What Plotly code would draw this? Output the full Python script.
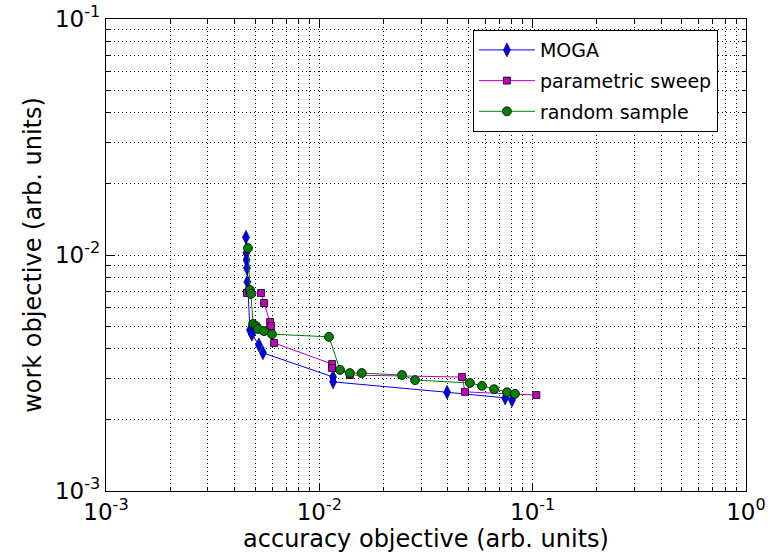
import plotly.graph_objects as go

moga_x = [0.00453, 0.00455, 0.00456, 0.00458, 0.00460, 0.00463, 0.00473, 0.00483, 0.00521, 0.00544, 0.0116, 0.0116, 0.0397, 0.0743, 0.080]
moga_y = [0.0119, 0.0102, 0.00953, 0.00881, 0.00769, 0.00711, 0.00481, 0.00462, 0.00416, 0.00385, 0.00304, 0.0029, 0.00262, 0.00248, 0.00243]

sweep_x = [0.00458, 0.00533, 0.00551, 0.00588, 0.00594, 0.00614, 0.01148, 0.01148, 0.0139, 0.0467, 0.0482, 0.104]
sweep_y = [0.0069, 0.0069, 0.00626, 0.0052, 0.0050, 0.00424, 0.00345, 0.00332, 0.0031, 0.00304, 0.00263, 0.00255]

rand_x = [0.00463, 0.00473, 0.00478, 0.00489, 0.00505, 0.00516, 0.00551, 0.0060, 0.0111, 0.0125, 0.0139, 0.0158, 0.0244, 0.0281, 0.0508, 0.0579, 0.0660, 0.0759, 0.0826]
rand_y = [0.0107, 0.00711, 0.00684, 0.0051, 0.0050, 0.00486, 0.00476, 0.00462, 0.0045, 0.00326, 0.00316, 0.00316, 0.0031, 0.00295, 0.00287, 0.00279, 0.0027, 0.00262, 0.00258]

x_major = [1e-3, 1e-2, 1e-1, 1e0]
x_labels = ["10<sup>-3</sup>", "10<sup>-2</sup>", "10<sup>-1</sup>", "10<sup>0</sup>"]
y_major = [1e-3, 1e-2, 1e-1]
y_labels = ["10<sup>-3</sup>", "10<sup>-2</sup>", "10<sup>-1</sup>"]

def minors(lo, hi):
    out = []
    d = lo
    while d < hi:
        for k in range(2, 10):
            out.append(k * d)
        d *= 10
    return out

fig = go.Figure()
fig.add_trace(go.Scatter(x=moga_x, y=moga_y, mode="lines+markers", name="MOGA", legendgroup="a",
                         line=dict(color="#0000ff", width=1),
                         marker=dict(symbol="diamond-tall", size=10, color="#0000ff",
                                     line=dict(color="black", width=0.6))))
fig.add_trace(go.Scatter(x=sweep_x, y=sweep_y, mode="lines+markers", name="parametric sweep", legendgroup="b",
                         line=dict(color="#bf00bf", width=1),
                         marker=dict(symbol="square", size=7, color="#bf00bf",
                                     line=dict(color="black", width=0.8))))
fig.add_trace(go.Scatter(x=rand_x, y=rand_y, mode="lines+markers", name="random sample", legendgroup="c",
                         line=dict(color="#008000", width=1),
                         marker=dict(symbol="circle", size=9, color="#008000",
                                     line=dict(color="black", width=0.8))))

font = "DejaVu Sans, sans-serif"
grid = dict(showgrid=True, gridcolor="black", griddash="1px,3px", gridwidth=1)
common = dict(type="log", showline=True, linecolor="black", linewidth=1.2, mirror="allticks",
              ticks="inside", ticklen=8, tickcolor="black", tickwidth=1, automargin=False,
              zeroline=False, tickfont=dict(family=font, size=23, color="black"), **grid)

fig.update_xaxes(range=[-3, 0], tickmode="array", tickvals=x_major, ticktext=x_labels,
                 minor=dict(tickmode="array", tickvals=minors(1e-3, 1e0), ticks="inside", ticklen=4,
                            tickcolor="black", **grid),
                 title=dict(text="accuracy objective (arb. units)", font=dict(family=font, size=24, color="black"), standoff=2),
                 **common)
fig.update_yaxes(range=[-3, -1], tickmode="array", tickvals=y_major, ticktext=y_labels,
                 minor=dict(tickmode="array", tickvals=minors(1e-3, 1e-1), ticks="inside", ticklen=4,
                            tickcolor="black", **grid),
                 title=dict(text="work objective (arb. units)", font=dict(family=font, size=24, color="black"), standoff=6),
                 **common)

fig.update_layout(width=770, height=556, margin=dict(l=106, r=24, t=19, b=65),
                  plot_bgcolor="white", paper_bgcolor="white",
                  font=dict(family=font, size=19, color="black"),
                  showlegend=True,
                  legend=dict(x=0.573, y=0.977, xanchor="left", yanchor="top",
                              bordercolor="black", borderwidth=1.2, bgcolor="white",
                              font=dict(family=font, size=19, color="black"),
                              tracegroupgap=3, itemwidth=56))

fig.write_html("out.html")
